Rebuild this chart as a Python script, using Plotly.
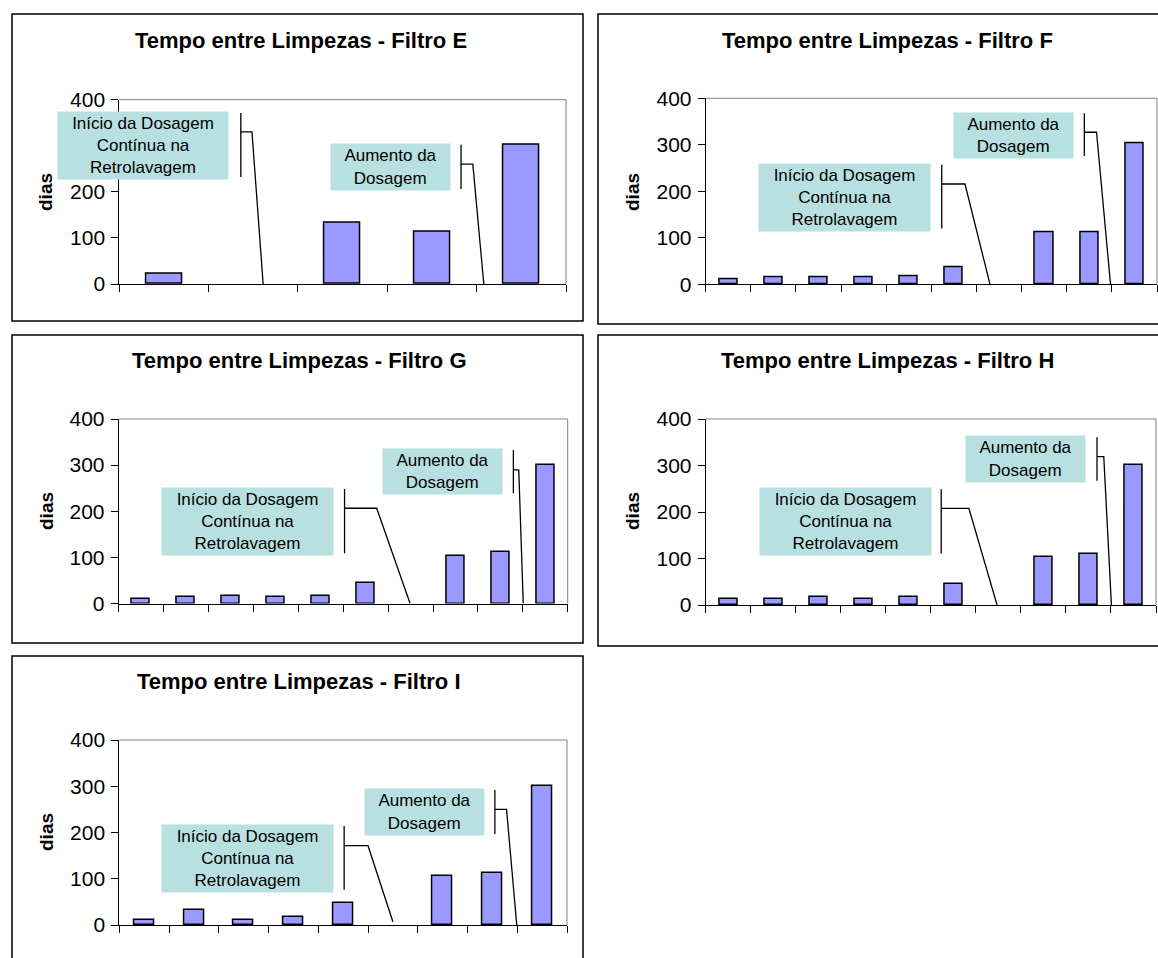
import plotly.graph_objects as go

# ---------------- data ----------------
titles = ["Tempo entre Limpezas - Filtro E", "Tempo entre Limpezas - Filtro F",
          "Tempo entre Limpezas - Filtro G", "Tempo entre Limpezas - Filtro H",
          "Tempo entre Limpezas - Filtro I"]
filtro_E = [22, 0, 133, 113, 302]
filtro_F = [11, 14, 14, 14, 18, 37, 0, 111, 111, 303]
filtro_G = [10, 14, 17, 14, 17, 45, 0, 104, 112, 301]
filtro_H = [13, 13, 17, 13, 17, 45, 0, 104, 110, 302]
filtro_I = [11, 32, 10, 18, 47, 0, 106, 112, 301]
y_ticks = [0, 100, 200, 300, 400]
# in panel E the "300" label is covered by the callout box in the original
y_ticktext = [["0", "100", "200", "", "400"]] + [[str(v) for v in y_ticks]] * 4
y_label = "dias"
box_inicio = "Início da Dosagem<br>Contínua na<br>Retrolavagem"
box_aumento = "Aumento da<br>Dosagem"

series = [filtro_E, filtro_F, filtro_G, filtro_H, filtro_I]

# ---------------- layout (page pixels) ----------------
W, H = 1158, 958
FONT = "Liberation Sans, Arial, sans-serif"
panel_boxes = [(12, 14, 583, 321), (598, 14, 1175, 324), (12, 335, 583, 643),
               (598, 335, 1175, 646), (12, 656, 583, 975)]
plot_areas = [(119.3, 99.7, 566, 284), (705.7, 98.3, 1157, 284.3),
              (118.7, 419, 567.7, 603.5), (705.7, 419, 1156, 605),
              (119.3, 740, 567, 925)]
title_pos = [(301, 40), (887, 40), (299, 360), (887, 360), (299, 681)]
ylabel_pos = [(46, 192), (633, 192), (47, 511), (633, 511), (46, 832)]

# callouts in data units: box (cx, cy, wpx, hpx, text), accent x, accent y0,y1, leader y, knee x, end x, end y
callouts = [
    [(-0.23, 300.5, 168, 65, box_inicio, 0.86, 232, 371, 330, 0.985, 1.11, 0),
     (2.54, 254, 117, 44, box_aumento, 3.325, 206, 302, 260, 3.457, 3.58, 0)],
    [(2.58, 186.7, 169, 65, box_inicio, 4.73, 120, 257, 215.7, 5.245, 5.80, 0),
     (6.32, 321, 117, 43, box_aumento, 7.89, 276, 368, 327, 8.16, 8.47, 0)],
    [(2.375, 178, 169, 65, box_inicio, 4.53, 109, 248, 206.5, 5.246, 5.99, 0),
     (6.71, 286, 117, 43, box_aumento, 8.29, 239, 333, 289.6, 8.41, 8.51, 0)],
    [(2.595, 179.5, 169, 65, box_inicio, 4.73, 111, 249, 208, 5.345, 5.97, 0),
     (6.61, 314.6, 117, 44, box_aumento, 8.19, 267, 361, 319, 8.34, 8.51, 0)],
    [(2.07, 144, 169, 65, box_inicio, 4.02, 76, 214, 171.5, 4.5, 5.0, 7),
     (5.63, 244, 117, 44, box_aumento, 7.05, 197, 292, 250, 7.285, 7.49, 0)],
]

def px(x):
    return x / W

def py(y):
    return 1 - y / H

fig = go.Figure()
shapes = []
annotations = []

for i, vals in enumerate(series):
    k = "" if i == 0 else str(i + 1)
    xa, ya = "x" + k, "y" + k
    n = len(vals)
    fig.add_trace(go.Bar(x=list(range(n)), y=vals, width=0.4, xaxis=xa, yaxis=ya,
                         marker=dict(color="#9999FF",
                                     line=dict(color="black",
                                               width=[0 if v == 0 else 1.5 for v in vals])),
                         showlegend=False, hoverinfo="y"))
    l, t, r, b = plot_areas[i]
    fig.layout["xaxis" + k] = dict(
        domain=[px(l), px(r)], anchor=ya, range=[-0.5, n - 0.5], automargin=False,
        tickmode="array", tickvals=[j - 0.5 for j in range(n + 1)],
        showticklabels=False, ticks="outside", ticklen=7, tickcolor="black",
        showline=True, linecolor="black", linewidth=1, showgrid=False,
        zeroline=False, fixedrange=True)
    fig.layout["yaxis" + k] = dict(
        domain=[py(b), py(t)], anchor=xa, range=[0, 400], automargin=False,
        tickmode="array", tickvals=y_ticks, ticktext=y_ticktext[i],
        ticks="outside", ticklen=7, ticklabelstandoff=2,
        tickcolor="black", showline=True, linecolor="black", linewidth=1,
        showgrid=False, zeroline=False, fixedrange=True,
        tickfont=dict(family=FONT, size=21, color="black"))
    # plot-area gray border (top & right)
    shapes.append(dict(type="line", xref=xa + " domain", yref=ya + " domain",
                       x0=0, x1=1, y0=1, y1=1, line=dict(color="#808080", width=1)))
    shapes.append(dict(type="line", xref=xa + " domain", yref=ya + " domain",
                       x0=1, x1=1, y0=0, y1=1, line=dict(color="#808080", width=1)))
    # panel border
    bl, bt, br, bb = panel_boxes[i]
    shapes.append(dict(type="rect", xref="paper", yref="paper",
                       x0=px(bl), x1=px(br), y0=py(bb), y1=py(bt),
                       line=dict(color="black", width=1.5), layer="below"))
    # title
    tx, ty = title_pos[i]
    annotations.append(dict(xref="paper", yref="paper", x=px(tx), y=py(ty),
                            xanchor="center", yanchor="middle", showarrow=False,
                            text="<b>" + titles[i] + "</b>",
                            font=dict(family=FONT, size=22, color="black")))
    # y label
    lx, ly = ylabel_pos[i]
    annotations.append(dict(xref="paper", yref="paper", x=px(lx), y=py(ly),
                            xanchor="center", yanchor="middle", showarrow=False,
                            textangle=-90, text="<b>" + y_label + "</b>",
                            font=dict(family=FONT, size=19, color="black")))
    # callouts
    for (cx, cy, bw, bh, txt, ax_, ay0, ay1, ly_, kx, ex, ey) in callouts[i]:
        annotations.append(dict(xref=xa, yref=ya, x=cx, y=cy, xanchor="center",
                                yanchor="middle", showarrow=False, text=txt,
                                width=bw, height=bh, bgcolor="#B8E0E0",
                                align="center", valign="middle",
                                font=dict(family=FONT, size=17, color="black")))
        shapes.append(dict(type="path", xref=xa, yref=ya,
                           path=f"M {ax_},{ay0} L {ax_},{ay1}",
                           line=dict(color="black", width=1.3)))
        shapes.append(dict(type="path", xref=xa, yref=ya,
                           path=f"M {ax_},{ly_} L {kx},{ly_} L {ex},{ey}",
                           line=dict(color="black", width=1.3)))

fig.update_layout(template="none", width=W, height=H,
                  margin=dict(l=0, r=0, t=0, b=0, pad=0, autoexpand=False),
                  paper_bgcolor="white", plot_bgcolor="white",
                  shapes=shapes, annotations=annotations, bargap=0,
                  font=dict(family=FONT, color="black"))

fig.write_html("out.html", config={"displayModeBar": False},
               post_script="document.body.style.margin='0';document.body.style.overflow='hidden';")
